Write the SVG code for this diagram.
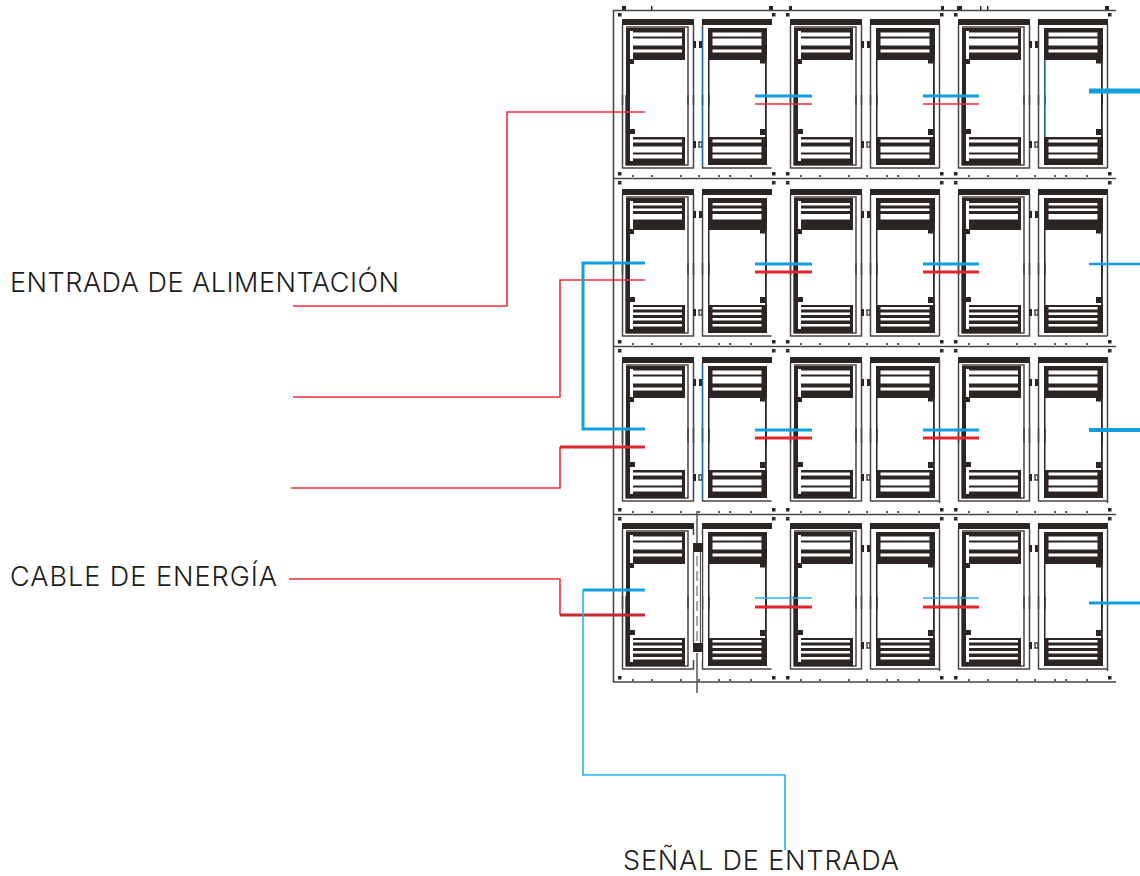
<svg xmlns="http://www.w3.org/2000/svg" width="1140" height="876" viewBox="0 0 1140 876">
<style>
.d{fill:#2b2523}.w{fill:#fff}
.o{fill:none;stroke:#4a4443;stroke-width:1.5}
.f{fill:none;stroke:#4a4443;stroke-width:1.6}
.lb{font-family:Inter,"Liberation Sans",Arial,sans-serif;font-weight:300;font-size:27px;fill:#1c1c1c}
.r{fill:none;stroke:#ee2e3a;stroke-width:1.6}
.rt{fill:none;stroke:#e2252f;stroke-width:3.200}
.b{fill:none;stroke:#0f9fe0;stroke-width:3}
.bl{fill:none;stroke:#29b2ea;stroke-width:1.6}
.tint{fill:none;stroke:#2a6d9c;stroke-width:1.200}
</style>
<defs>
<g id="stripesTopA">
<rect class="w" x="0" y="32.500" width="49" height="4"/>
<rect class="w" x="0" y="38.500" width="49" height="7"/>
<rect class="w" x="0" y="49.500" width="49" height="3"/>
</g>
<g id="stripesTopB">
<rect class="w" x="0" y="33" width="49" height="2.500"/>
<rect class="w" x="0" y="38.500" width="49" height="2.500"/>
<rect class="w" x="0" y="44" width="49" height="5.500"/>
</g>
<g id="stripesBotA">
<rect class="w" x="0" y="139.500" width="49" height="3"/>
<rect class="w" x="0" y="146.500" width="49" height="6"/>
<rect class="w" x="0" y="154.500" width="49" height="4"/>
</g>
<g id="stripesBotB">
<rect class="w" x="0" y="139" width="49" height="2.500"/>
<rect class="w" x="0" y="144.500" width="49" height="2.500"/>
<rect class="w" x="0" y="150" width="49" height="2.500"/>
<rect class="w" x="0" y="156" width="49" height="2.500"/>
</g>
<g id="top">
<rect class="d" x="622" y="19" width="72" height="6"/>
<rect class="d" x="702" y="19" width="70" height="6"/>
<path class="o" d="M622.500 25V105M693.500 25V105M702.500 25V105M626 27H688V105"/>
<rect class="d" x="626" y="28" width="4" height="77"/>
<rect class="d" x="630" y="28" width="55" height="32"/>
<rect class="w" x="630" y="31" width="3" height="29"/>
<rect class="d" x="630" y="59" width="4" height="5"/>
<rect class="d" x="708" y="28" width="59" height="32"/>
<rect class="d" x="708" y="60" width="1.500" height="45"/>
<rect class="d" x="765" y="60" width="1.800" height="45"/>
<rect class="d" x="760" y="60" width="6" height="3.500"/>
<rect class="d" x="693" y="41" width="3" height="7"/>
<rect class="d" x="699" y="41" width="3" height="7"/>
</g>
<g id="bot">
<path class="o" d="M622.500 95V168H693.500V95M702.500 95V168H771.500M626 95V165H688V95"/>
<rect class="d" x="626" y="95" width="4" height="70"/>
<rect class="d" x="630" y="129" width="5" height="5"/>
<rect class="d" x="630" y="137" width="55" height="28"/>
<rect class="w" x="630" y="137" width="3" height="24"/>
<rect class="d" x="708" y="95" width="1.500" height="70"/>
<rect class="d" x="765" y="95" width="1.800" height="70"/>
<rect class="d" x="760" y="129" width="6" height="6"/>
<rect class="d" x="708" y="137" width="59" height="28"/>
<rect class="d" x="693" y="141" width="3" height="7"/>
<rect class="o" x="699" y="142" width="3" height="5"/>
</g>
<g id="dots">
<rect class="d" x="618" y="13" width="3.500" height="3.500"/>
<rect class="d" x="772" y="13" width="3.500" height="3.500"/>
<rect class="d" x="618" y="172" width="3.500" height="3.500"/>
<rect class="d" x="772" y="172" width="3.500" height="3.500"/>
<path d="M632 176h2M651 176h2M680 176h2M698 176h2M718 176h2M729 176h2M750 176h2" fill="none" stroke="#2b2523" stroke-width="1.500"/>
</g>
<path id="rline" class="o" d="M771.500 25V168"/>
</defs>

<rect width="1140" height="876" fill="#fff"/>

<g id="frame">
<path class="f" d="M1116 10.500H613.500V682H1116M613.500 178.500H1116M613.500 346.500H1116M613.500 514.500H1116"/>
<path d="M622 6h4v4h-4zM651 6h1.500v4h-1.500zM769 6h4v4h-4zM789 6h3v4h-3zM941 6h3v4h-3zM957 6h5v4h-5zM980 6h1.500v4h-1.500zM987 6h1.500v4h-1.500zM1105 6h4v4h-4z" fill="#2b2523"/>
</g>

<g id="panel-1-1"><use href="#top"/><use href="#bot"/><use href="#stripesTopA" x="633"/><use href="#stripesTopA" x="712.500"/><use href="#stripesBotA" x="633"/><use href="#stripesBotA" x="712.500"/><use href="#dots"/></g>
<g id="panel-1-2" transform="translate(168)"><use href="#top"/><use href="#bot"/><use href="#stripesTopA" x="633"/><use href="#stripesTopA" x="712.500"/><use href="#stripesBotA" x="633"/><use href="#stripesBotA" x="712.500"/><use href="#dots"/><use href="#rline"/></g>
<g id="panel-1-3" transform="translate(336)"><use href="#top"/><use href="#bot"/><use href="#stripesTopA" x="633"/><use href="#stripesTopA" x="712.500"/><use href="#stripesBotA" x="633"/><use href="#stripesBotA" x="712.500"/><use href="#dots"/><use href="#rline"/></g>

<g id="panel-2-1"><use href="#top" y="170"/><use href="#bot" y="168"/><use href="#stripesTopB" x="633" y="170"/><use href="#stripesTopB" x="712.500" y="170"/><use href="#stripesBotB" x="633" y="168"/><use href="#stripesBotB" x="712.500" y="168"/><use href="#dots" y="168"/></g>
<g id="panel-2-2" transform="translate(168)"><use href="#top" y="170"/><use href="#bot" y="168"/><use href="#stripesTopB" x="633" y="170"/><use href="#stripesTopB" x="712.500" y="170"/><use href="#stripesBotB" x="633" y="168"/><use href="#stripesBotB" x="712.500" y="168"/><use href="#dots" y="168"/><use href="#rline" y="168"/></g>
<g id="panel-2-3" transform="translate(336)"><use href="#top" y="170"/><use href="#bot" y="168"/><use href="#stripesTopB" x="633" y="170"/><use href="#stripesTopB" x="712.500" y="170"/><use href="#stripesBotB" x="633" y="168"/><use href="#stripesBotB" x="712.500" y="168"/><use href="#dots" y="168"/><use href="#rline" y="168"/></g>

<g id="panel-3-1"><use href="#top" y="338"/><use href="#bot" y="333"/><use href="#stripesTopA" x="633" y="338"/><use href="#stripesTopA" x="712.500" y="338"/><use href="#stripesBotA" x="633" y="333"/><use href="#stripesBotA" x="712.500" y="333"/><use href="#dots" y="336"/></g>
<g id="panel-3-2" transform="translate(168)"><use href="#top" y="338"/><use href="#bot" y="333"/><use href="#stripesTopA" x="633" y="338"/><use href="#stripesTopA" x="712.500" y="338"/><use href="#stripesBotA" x="633" y="333"/><use href="#stripesBotA" x="712.500" y="333"/><use href="#dots" y="336"/><use href="#rline" y="335"/></g>
<g id="panel-3-3" transform="translate(336)"><use href="#top" y="338"/><use href="#bot" y="333"/><use href="#stripesTopA" x="633" y="338"/><use href="#stripesTopA" x="712.500" y="338"/><use href="#stripesBotA" x="633" y="333"/><use href="#stripesBotA" x="712.500" y="333"/><use href="#dots" y="336"/><use href="#rline" y="335"/></g>

<g id="panel-4-1"><use href="#top" y="504"/><use href="#bot" y="501"/><use href="#stripesTopA" x="633" y="504"/><use href="#stripesTopA" x="712.500" y="504"/><use href="#stripesBotB" x="633" y="501"/><use href="#stripesBotB" x="712.500" y="501"/><use href="#dots" y="504"/></g>
<g id="panel-4-2" transform="translate(168)"><use href="#top" y="504"/><use href="#bot" y="501"/><use href="#stripesTopA" x="633" y="504"/><use href="#stripesTopA" x="712.500" y="504"/><use href="#stripesBotB" x="633" y="501"/><use href="#stripesBotB" x="712.500" y="501"/><use href="#dots" y="504"/><use href="#rline" y="503"/></g>
<g id="panel-4-3" transform="translate(336)"><use href="#top" y="504"/><use href="#bot" y="501"/><use href="#stripesTopA" x="633" y="504"/><use href="#stripesTopA" x="712.500" y="504"/><use href="#stripesBotB" x="633" y="501"/><use href="#stripesBotB" x="712.500" y="501"/><use href="#dots" y="504"/><use href="#rline" y="503"/></g>

<g id="split-line">
<rect class="w" x="692" y="535" width="10" height="125"/>
<path d="M697 511V543M697 653V693" fill="none" stroke="#555" stroke-width="1.500"/>
<path d="M693.500 552V643M700.500 552V643" fill="none" stroke="#555" stroke-width="1.300"/>
<path d="M697 556V643" fill="none" stroke="#888" stroke-width="1.500" stroke-dasharray="10 5"/>
<rect class="d" x="693" y="543" width="10" height="9"/>
<rect class="d" x="693" y="643" width="10" height="9"/>
</g>

<path id="tints" class="tint" d="M702.500 30V165M702.500 366V498M1044.500 60V135"/>

<g id="connectors">
<path class="r" d="M293 306H507V112H645"/>
<path class="r" d="M293 397H560V280H645"/>
<path class="r" d="M291 488H560V447"/>
<path class="rt" d="M560 447H645"/>
<path class="r" d="M289 579H560V615"/>
<path class="rt" d="M560 615H645" style="stroke:#c9272e"/>
<path class="b" d="M645 263H583V429H645"/>
<path class="b" d="M645 590H583"/>
<path class="bl" d="M583 590V775H785V850"/>

<path class="b" d="M755 96H812M923 96H979"/>
<path class="r" d="M755 104H812M923 104H979"/>
<path class="b" d="M755 264H812M923 264H979"/>
<path class="rt" d="M755 272H812M923 272H979"/>
<path class="b" d="M755 430H812M923 430H979"/>
<path class="rt" d="M755 438H812M923 438H979"/>
<path class="bl" d="M755 598H812M923 598H979"/>
<path class="rt" d="M755 607H812M923 607H979"/>

<path fill="none" stroke="#0f9fe0" stroke-width="5" d="M1089 91H1140"/>
<path fill="none" stroke="#0f9fe0" stroke-width="2.500" d="M1089 264H1140"/>
<path fill="none" stroke="#0f9fe0" stroke-width="4" d="M1089 430H1140"/>
<path fill="none" stroke="#0f9fe0" stroke-width="3" d="M1089 603H1140"/>
</g>

<g id="labels">
<text class="lb" x="10" y="292" textLength="389">ENTRADA DE ALIMENTACIÓN</text>
<text class="lb" x="10" y="586" textLength="267">CABLE DE ENERGÍA</text>
<text class="lb" x="623" y="870" textLength="276">SEÑAL DE ENTRADA</text>
</g>
</svg>
